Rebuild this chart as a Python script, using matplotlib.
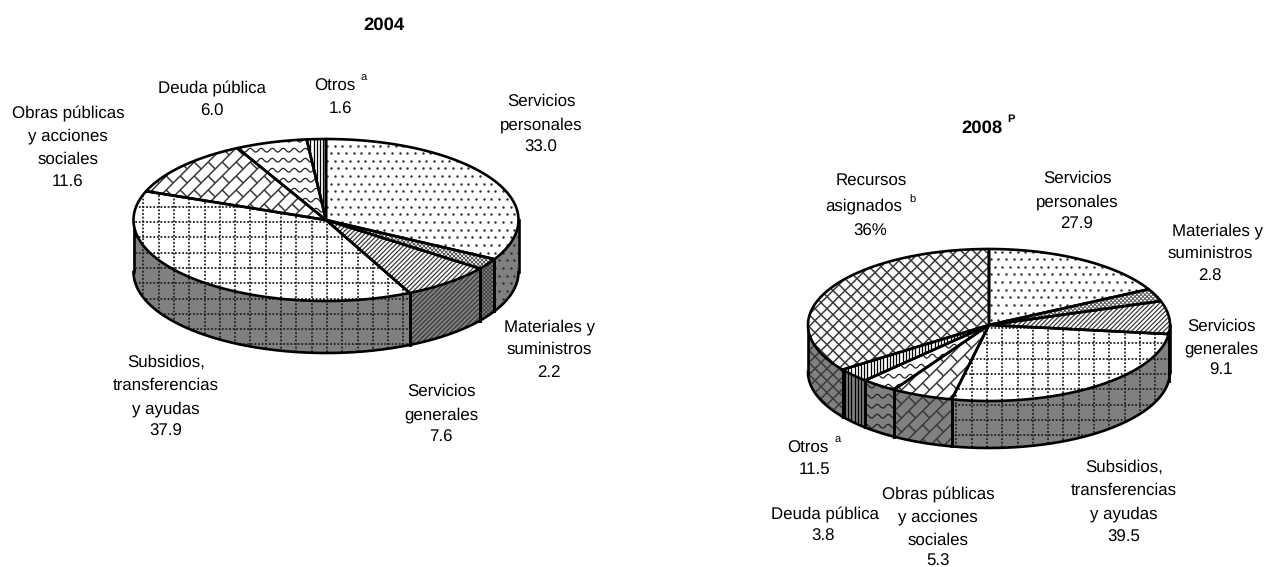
import numpy as np
import matplotlib
matplotlib.use('Agg')  # no display
import matplotlib.pyplot as plt
from matplotlib.collections import LineCollection
from matplotlib.patches import Polygon

plt.rcParams['font.family'] = ['Liberation Sans', 'DejaVu Sans']
plt.rcParams['text.hinting'] = 'no_hinting'

# shares of the circle as drawn, clockwise from 12 o'clock
categories = ['Servicios personales', 'Materiales y suministros', 'Servicios generales',
              'Subsidios, transferencias y ayudas', 'Obras publicas y acciones sociales',
              'Deuda publica', 'Otros', 'Recursos asignados']
values_2004 = [33.0, 2.2, 7.6, 37.9, 11.6, 6.0, 1.6]
# the 2008 slices do not follow the printed labels, these are read off the drawing
drawn_2008 = [17.2, 2.7, 7.0, 26.4, 5.5, 3.2, 3.0, 35.0]
hatches_2004 = ['dots', 'fine', 'diag', 'grid', 'brick', 'wave', 'vert']
hatches_2008 = ['dots', 'fine', 'diag', 'grid', 'brick', 'wave', 'vert', 'cross']

WALL = '#808080'
LW = 1.9
GRID = 15.3
FS = 12.2

fig = plt.figure(figsize=(12.69, 5.67), dpi=100)
ax = fig.add_axes([0, 0, 1, 1])
ax.set_xlim(0, 1269)
ax.set_ylim(567, 0)
ax.axis('off')


def draw_hatch(patch, kind, box, z):
    x0, y0, x1, y1 = box
    segs = []
    if kind == 'dots':
        xs, ys = [], []
        for j, y in enumerate(np.arange(y0, y1, GRID / 2)):
            for x in np.arange(x0 + (j % 2) * GRID / 4, x1, GRID / 2):
                xs.append(x)
                ys.append(y)
        pts = ax.scatter(xs, ys, s=3.2, c='#333333', lw=0, zorder=z)
        pts.set_clip_path(patch)
        return
    if kind == 'grid':
        lc = LineCollection([[(x, y0), (x, y1)] for x in np.arange(x0, x1, GRID)]
                            + [[(x0, y), (x1, y)] for y in np.arange(y0, y1, GRID)],
                            color='#222222', lw=1.3, ls=(0, (1, 1.0)), zorder=z)
    elif kind == 'vert':
        lc = LineCollection([[(x, y0), (x, y1)] for x in np.arange(x0, x1, 3.2)],
                            color='k', lw=0.9, zorder=z)
    elif kind == 'wave':
        t = np.arange(x0, x1, 1.0)
        for y in np.arange(y0, y1, 10.0):
            segs.append(np.column_stack([t, y + 1.9 * np.sin(t * 2 * np.pi / 11)]))
        lc = LineCollection(segs, color='#222222', lw=0.9, zorder=z)
    else:
        h = y1 - y0
        step = {'diag': 4.6, 'fine': 4.0, 'cross': 12.0, 'brick': 14.0}[kind]
        up = [[(x, y1), (x + h, y0)] for x in np.arange(x0 - h, x1, step)]
        down = [[(x, y0), (x + h, y1)] for x in np.arange(x0 - h, x1, step)]
        if kind == 'diag':
            segs = up
        elif kind in ('fine', 'cross'):
            segs = up + down
        else:
            # long "/" rails, short "\" rungs end midway between the next rail's rungs
            segs = list(up)
            for s in np.arange(x0 - h, x1, step):
                for d in np.arange(0, h, step):
                    bx, by = s + d, y1 - d
                    segs.append([(bx, by), (bx + step / 2, by + step / 2)])
        lw = {'diag': 0.9, 'fine': 0.6, 'cross': 1.1, 'brick': 1.1}[kind]
        lc = LineCollection(segs, color='#3a3a3a', lw=lw, zorder=z)
    ax.add_collection(lc)
    lc.set_clip_path(patch)


def pie3d(shares, kinds, cx, cy, rx, ry, depth, origin):
    edges = np.cumsum([0] + list(shares)) / sum(shares) * 2 * np.pi
    # hatch box starts on the picture's own grid lines
    ox = origin[0] - GRID * np.ceil((origin[0] - (cx - rx)) / GRID)
    oy = origin[1] - GRID * np.ceil((origin[1] - (cy - ry)) / GRID)
    box = (ox, oy, cx + rx + 5, cy + ry + depth + 5)

    def rim(a, b):
        t = np.linspace(a, b, max(int((b - a) * 80), 2))
        return cx + rx * np.sin(t), cy - ry * np.cos(t)

    # front wall, only where the angle runs between 3 and 9 o'clock
    for a, b, kind in zip(edges[:-1], edges[1:], kinds):
        lo, hi = max(a, np.pi / 2), min(b, 3 * np.pi / 2)
        if hi <= lo:
            continue
        x, y = rim(lo, hi)
        pts = np.column_stack([np.r_[x, x[::-1]], np.r_[y, y[::-1] + depth]])
        wall = Polygon(pts, closed=True, fc=WALL, ec='none', zorder=2)
        ax.add_patch(wall)
        draw_hatch(wall, kind, box, 3)
        ax.plot(x, y + depth, color='k', lw=LW, zorder=5)
        for t in (lo, hi):
            px, py = rim(t, t + 1e-6)
            ax.plot([px[0], px[0]], [py[0], py[0] + depth], color='k', lw=LW, zorder=5)

    # top face
    for a, b, kind in zip(edges[:-1], edges[1:], kinds):
        x, y = rim(a, b)
        pts = np.column_stack([np.r_[cx, x], np.r_[cy, y]])
        top = Polygon(pts, closed=True, fc='white', ec='none', zorder=6)
        ax.add_patch(top)
        draw_hatch(top, kind, box, 7)
    for a, b in zip(edges[:-1], edges[1:]):
        x, y = rim(a, b)
        pts = np.column_stack([np.r_[cx, x], np.r_[cy, y]])
        ax.add_patch(Polygon(pts, closed=True, fc='none', ec='k', lw=LW, joinstyle='round', zorder=8))


def label(x, y, lines, pitch=23.0):
    # y is the visual middle of the first line
    for i, s in enumerate(lines):
        ax.text(x, y + 6 + i * pitch, s, ha='center', va='baseline', fontsize=FS)


def sup(x, y, s, **kw):
    ax.text(x, y + 3, s, ha='center', va='baseline', fontsize=8, **kw)


pie3d(values_2004, hatches_2004, 326, 220, 192.5, 81, 52, (143.3, 222))
pie3d(drawn_2008, hatches_2008, 989, 325, 181, 76, 47, (971.7, 328))

# 2004
ax.text(384, 30, '2004', ha='center', va='baseline', fontsize=13.3, fontweight='bold')
label(335, 85, ['Otros'])
sup(364, 78, 'a')
label(340, 108, ['1.6'])
label(212, 87, ['Deuda pública', '6.0'], pitch=22.5)
label(68, 112, ['Obras públicas', 'y acciones', 'sociales', '11.6'], pitch=22.8)
label(541, 100, ['Servicios', 'personales', '33.0'])
label(549, 325, ['Materiales y', 'suministros', '2.2'])
label(441, 390, ['Servicios', 'generales', '7.6'])
label(166, 361, ['Subsidios,', 'transferencias', 'y ayudas', '37.9'])

# 2008
ax.text(982, 133, '2008', ha='center', va='baseline', fontsize=13.3, fontweight='bold')
sup(1011, 119, 'P', fontweight='bold')
label(871, 179, ['Recursos'])
label(864, 204, ['asignados'])
sup(912, 200, 'b')
label(870, 230, ['36%'])
label(1077, 177, ['Servicios', 'personales', '27.9'])
label(1218, 229, ['Materiales y'])
label(1210, 252, ['suministros', '2.8'])
label(1221, 325, ['Servicios', 'generales', '9.1'], pitch=22)
label(1124, 466, ['Subsidios,', 'transferencias', 'y ayudas', '39.5'], pitch=23.3)
label(938, 493, ['Obras públicas', 'y acciones', 'sociales'], pitch=22.7)
label(938, 560, ['5.3'])
label(825, 513, ['Deuda pública'])
label(823, 535, ['3.8'])
label(808, 447, ['Otros'])
sup(838, 440, 'a')
label(815, 468, ['11.5'])

fig.savefig('out.png', dpi=100)
plt.close(fig)
